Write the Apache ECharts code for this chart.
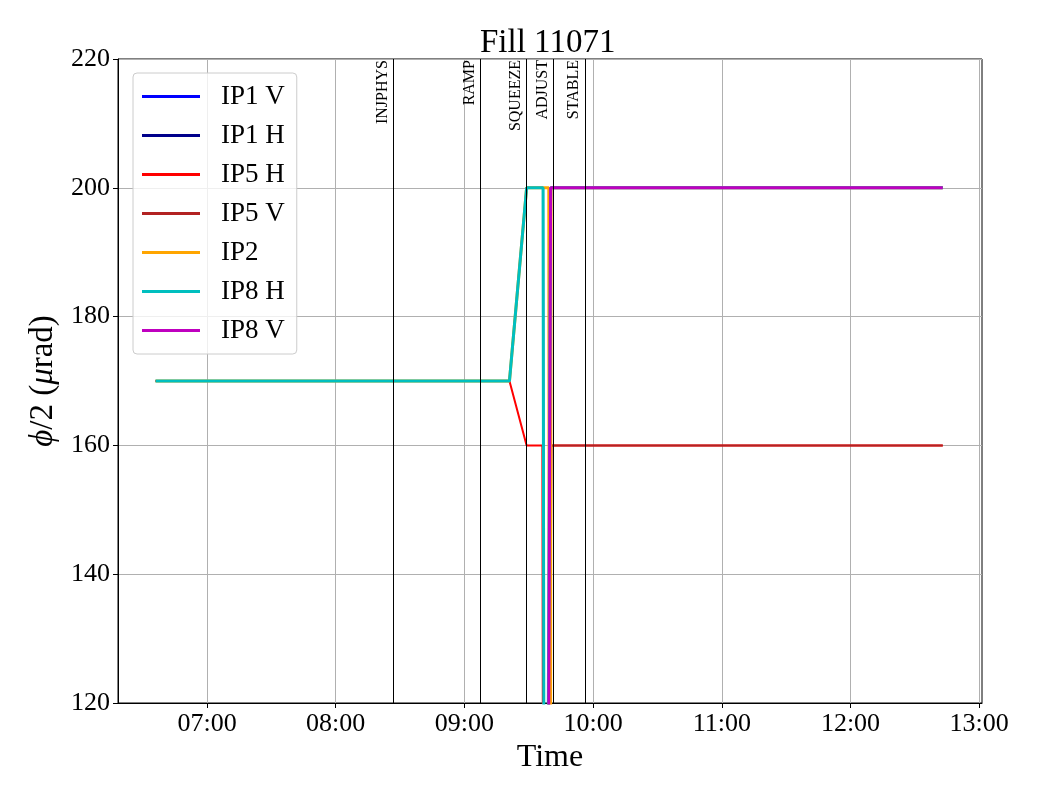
<!DOCTYPE html>
<html>
<head>
<meta charset="utf-8">
<script src="https://cdn.jsdelivr.net/npm/echarts@6/dist/echarts.min.js"></script>
<style>
  html, body { margin: 0; padding: 0; background: #fff; }
  #crossingChart { width: 1040px; height: 800px; }
</style>
</head>
<body>
<div id="crossingChart"></div>
<script>
  // half crossing angle per IP, fill 11071 (time, urad)
  const ip1v = [['09:38:00', 0], ['09:40:24', 200], ['12:43:00', 200]];
  const ip1h = [['06:36:00', 170], ['09:21:00', 170], ['09:29:00', 200], ['09:36:40', 200], ['09:37:30', 0], ['09:40:24', 200], ['12:43:00', 200]];
  const ip5h = [['06:36:00', 170], ['09:21:00', 170], ['09:29:00', 160], ['09:36:20', 160], ['09:37:10', 0], ['09:40:24', 160], ['12:43:00', 160]];
  const ip5v = [['09:38:00', 0], ['09:40:36', 160], ['12:43:00', 160]];
  const ip2 = [['06:36:00', 170], ['09:21:00', 170], ['09:29:00', 200], ['09:39:20', 200], ['09:39:50', 0], ['09:40:24', 200], ['12:43:00', 200]];
  const ip8h = [['06:36:00', 170], ['09:21:00', 170], ['09:29:00', 200], ['09:36:40', 200], ['09:37:30', 0], ['09:40:12', 200], ['12:43:00', 200]];
  const ip8v = [['09:38:00', 0], ['09:40:12', 200], ['12:43:00', 200]];

  const phaseNames = ['INJPHYS', 'RAMP', 'SQUEEZE', 'ADJUST', 'STABLE'];
  const phaseTimes = ['08:27:00', '09:07:30', '09:29:00', '09:41:30', '09:56:20'];

  const hourTicks = ['07:00', '08:00', '09:00', '10:00', '11:00', '12:00', '13:00'];
  const yTicks = [120, 140, 160, 180, 200, 220];

  const serif = 'Liberation Serif, DejaVu Serif, serif';

  function toMin(s) {
    let p = s.split(':').map(Number);
    return p[0] * 60 + p[1] + (p[2] || 0) / 60;
  }
  function fmt(m) {
    let h = Math.floor(m / 60), mm = Math.round(m - h * 60);
    return (h < 10 ? '0' : '') + h + ':' + (mm < 10 ? '0' : '') + mm;
  }
  function pts(arr) {
    return arr.map(d => [toMin(d[0]), d[1]]);
  }

  let chart = echarts.init(document.getElementById('crossingChart'));

  let defs = [
    { name: 'IP1 V', data: ip1v, color: '#0000ff', width: 2 },
    { name: 'IP1 H', data: ip1h, color: '#00008b', width: 2 },
    { name: 'IP5 H', data: ip5h, color: '#ff0000', width: 2 },
    { name: 'IP5 V', data: ip5v, color: '#b22222', width: 2 },
    { name: 'IP2', data: ip2, color: '#ffa500', width: 3 },
    { name: 'IP8 H', data: ip8h, color: '#00bfbf', width: 3 },
    { name: 'IP8 V', data: ip8v, color: '#bf00bf', width: 3 }
  ];

  let series = defs.map(d => ({
    name: d.name,
    type: 'line',
    data: pts(d.data),
    showSymbol: false,
    symbol: 'none',
    color: d.color,
    lineStyle: { color: d.color, width: d.width },
    animation: false
  }));

  // phase boundaries as vertical lines
  series[0].markLine = {
    silent: true,
    symbol: 'none',
    animation: false,
    lineStyle: { color: '#000', width: 1, type: 'solid' },
    label: {
      show: true,
      position: 'insideEndTop',
      distance: [1, 3],
      color: '#000',
      fontFamily: serif,
      fontSize: 16
    },
    data: phaseTimes.map((t, i) => ({ xAxis: toMin(t), label: { formatter: phaseNames[i] } }))
  };

  let option = {
    backgroundColor: '#fff',
    animation: false,
    title: {
      text: 'Fill 11071',
      left: 480,
      top: 27,
      padding: 0,
      textStyle: { fontFamily: serif, fontSize: 33, fontWeight: 'normal', color: '#000' }
    },
    grid: {
      left: 118, right: 58, top: 59, bottom: 97,
      show: true, borderColor: '#000', borderWidth: 1, backgroundColor: 'transparent'
    },
    legend: {
      orient: 'vertical',
      left: 133,
      top: 73,
      padding: [10, 12, 10, 9],
      itemGap: 12,
      itemWidth: 58,
      itemHeight: 3,
      icon: 'rect',
      backgroundColor: 'rgba(255,255,255,0.8)',
      borderColor: '#cccccc',
      borderWidth: 1,
      borderRadius: 4,
      textStyle: { fontFamily: serif, fontSize: 27, color: '#000', lineHeight: 27, padding: [0, 0, 0, 16] },
      data: defs.map(d => d.name)
    },
    xAxis: {
      type: 'value',
      min: 378.5,
      max: 781.3,
      name: 'Time',
      nameLocation: 'middle',
      nameGap: 36,
      nameTextStyle: { fontFamily: serif, fontSize: 32, color: '#000' },
      axisLine: { show: true, onZero: false, lineStyle: { color: '#000', width: 1 } },
      axisTick: { show: true, length: 5, lineStyle: { color: '#000' }, customValues: hourTicks.map(toMin) },
      axisLabel: {
        color: '#000', fontFamily: serif, fontSize: 26, margin: 8,
        customValues: hourTicks.map(toMin),
        formatter: v => fmt(v)
      },
      splitLine: { show: true, lineStyle: { color: '#b0b0b0', width: 1 } }
    },
    yAxis: {
      type: 'value',
      min: 120,
      max: 220,
      interval: 20,
      name: '{i|ϕ}/2 ({i|μ}rad)',
      nameLocation: 'middle',
      nameGap: 57,
      nameTextStyle: {
        fontFamily: serif, fontSize: 33, color: '#000',
        rich: { i: { fontFamily: serif, fontSize: 33, fontStyle: 'italic', color: '#000' } }
      },
      axisLine: { show: true, lineStyle: { color: '#000', width: 1 } },
      axisTick: { show: true, length: 5, lineStyle: { color: '#000' } },
      axisLabel: { color: '#000', fontFamily: serif, fontSize: 26, margin: 8, formatter: v => yTicks.indexOf(v) >= 0 ? String(v) : '' },
      splitLine: { show: true, lineStyle: { color: '#b0b0b0', width: 1 } }
    },
    series: series
  };

  chart.setOption(option);
</script>
</body>
</html>
